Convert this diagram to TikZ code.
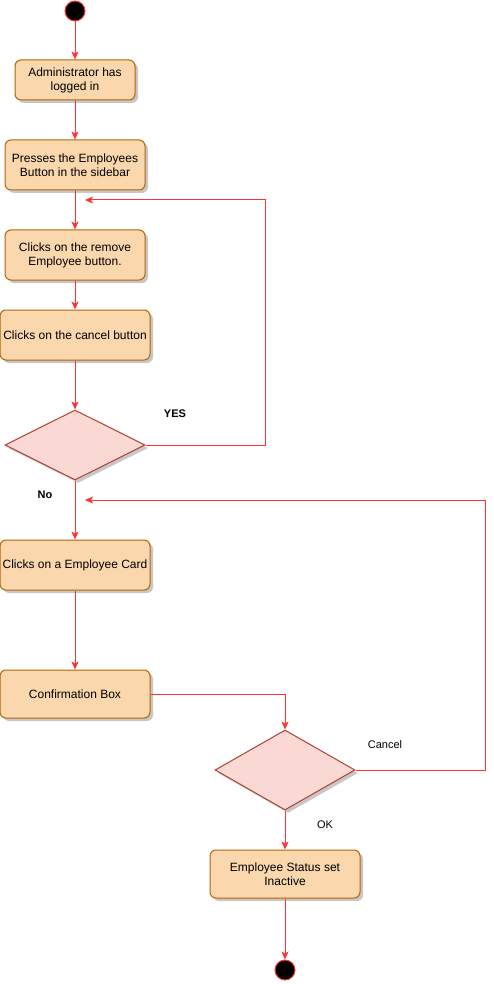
\documentclass[tikz,border=0pt]{standalone}
\usepackage{fontspec}
\setmainfont{Liberation Sans}
\usetikzlibrary{arrows.meta, shapes.geometric, shadows}
\definecolor{actfill}{HTML}{FAD7AC}
\definecolor{actdraw}{HTML}{B46504}
\definecolor{decfill}{HTML}{FAD9D5}
\definecolor{decdraw}{HTML}{AE4132}
\definecolor{flowred}{HTML}{FF3333}
\begin{document}
\begin{tikzpicture}[x=1pt, y=-1pt, line width=1pt,
    act/.style={rectangle, rounded corners=6pt, draw=actdraw, fill=actfill, inner sep=0pt,
        align=center, font=\fontsize{12}{14}\selectfont,
        drop shadow={shadow xshift=3pt, shadow yshift=-3pt, fill=black!22, opacity=1}},
    dec/.style={diamond, draw=decdraw, fill=decfill, inner sep=0pt,
        drop shadow={shadow xshift=3pt, shadow yshift=-3pt, fill=black!22, opacity=1}},
    dot/.style={circle, draw=flowred, fill=black, minimum size=20pt, inner sep=0pt},
    flow/.style={draw=flowred, -{Stealth[length=8pt, width=7pt, inset=2pt]}},
    lbl/.style={font=\fontsize{11}{13}\selectfont}]
    \useasboundingbox (0,0) rectangle (494,984);

    \node[dot] (start) at (75,11) {};
    \node[act, minimum width=120pt, minimum height=40pt] (login) at (75,80) {Administrator has\\logged in};
    \node[act, minimum width=140pt, minimum height=50pt] (press) at (75,165) {Presses the Employees\\Button in the sidebar};
    \node[act, minimum width=140pt, minimum height=50pt] (remove) at (75,255) {Clicks on the remove\\Employee button.};
    \node[act, minimum width=150pt, minimum height=50pt] (cancel) at (75,335) {Clicks on the cancel button};
    \node[dec, minimum width=140pt, minimum height=70pt] (ask1) at (75,445) {};
    \node[act, minimum width=150pt, minimum height=50pt] (card) at (75,565) {Clicks on a Employee Card};
    \node[act, minimum width=150pt, minimum height=48pt] (confirm) at (75,694) {Confirmation Box};
    \node[dec, minimum width=140pt, minimum height=80pt] (ask2) at (285,770) {};
    \node[act, minimum width=150pt, minimum height=48pt] (inactive) at (285,874) {Employee Status set\\Inactive};
    \node[dot] (stop) at (285,970) {};

    \coordinate (yescorner) at (265,200);
    \coordinate (yesin) at (85,200);
    \coordinate (cancelcorner) at (485,500);
    \coordinate (cancelin) at (85,500);

    \draw[flow] (start) -- (login);
    \draw[flow] (login) -- (press);
    \draw[flow] (press) -- (remove);
    \draw[flow] (remove) -- (cancel);
    \draw[flow] (cancel) -- (ask1);
    \draw[flow] (ask1.east) -| (yescorner) -- (yesin);
    \draw[flow] (ask1) -- (card);
    \draw[flow] (card) -- (confirm);
    \draw[flow] (confirm.east) -| (ask2.north);
    \draw[flow] (ask2.east) -| (cancelcorner) -- (cancelin);
    \draw[flow] (ask2) -- (inactive);
    \draw[flow] (inactive) -- (stop);

    \node[lbl, font=\fontsize{11}{13}\selectfont\bfseries] (yes) at (175,414) {YES};
    \node[lbl, font=\fontsize{11}{13}\selectfont\bfseries] (no) at (45,495) {No};
    \node[lbl] (cancellbl) at (385,745) {Cancel};
    \node[lbl] (ok) at (325,825) {OK};
\end{tikzpicture}
\end{document}
